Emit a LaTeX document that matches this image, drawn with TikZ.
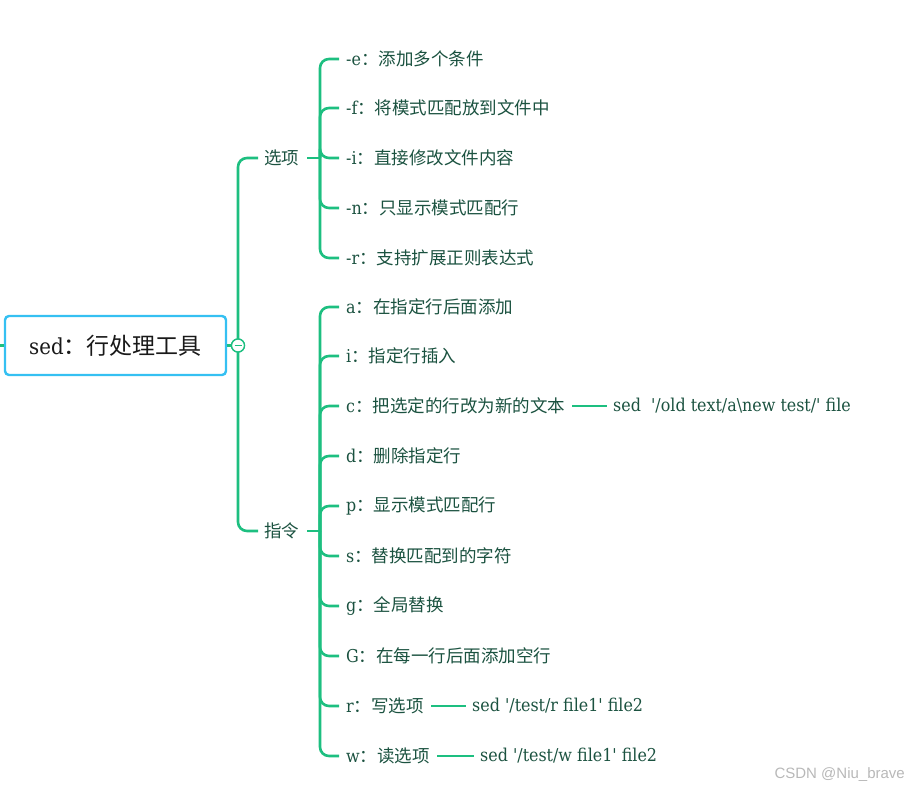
\documentclass[tikz,border=0pt]{standalone}
\usepackage{fontspec}
\setmainfont{DejaVu Serif Condensed}
\newfontfamily\cjkf{Noto Sans CJK SC}
\newcommand{\cjk}{\cjkf\fontsize{17.5}{20}\selectfont}
\newfontfamily\wmfont{Liberation Sans}
\definecolor{lg}{HTML}{1DBF80}
\definecolor{tg}{HTML}{1B5240}
\definecolor{rb}{HTML}{35C0F2}
\newcommand{\sq}{\textquotesingle}
\begin{document}
\begin{tikzpicture}[x=1pt,y=-1pt,
  kid/.style={anchor=west,inner sep=0pt,text=tg,font=\fontsize{17.7}{20}\selectfont},
  lnk/.style={draw=lg,line width=2.6pt,rounded corners=9pt},
  rootbox/.style={draw=rb,line width=2.4pt,rounded corners=4pt,minimum width=221pt,minimum height=59pt,inner sep=0pt,font=\fontsize{22}{26}\selectfont,text=black!90}]
\useasboundingbox (0,0) rectangle (909,791);
% root
\node[rootbox] (root) at (115.5,345.5) {sed{\cjkf\fontsize{23}{26}\selectfont：行处理工具}};
\coordinate (lstub) at (0,345.5);
\node[circle,draw=lg,fill=white,line width=1.3pt,minimum size=13pt,inner sep=0pt] (circ) at (238,345.5) {};
% level 1
\node[kid] (opt) at (264,158) {\cjk 选项};
\node[kid] (cmd) at (264,531) {\cjk 指令};
\coordinate (ob) at (320,158);
\coordinate (cb) at (320,531);
% options
\node[kid] (oe) at (346,59) {-e{\cjk：添加多个条件}};
\node[kid] (of) at (346,108) {-f{\cjk：将模式匹配放到文件中}};
\node[kid] (oi) at (346,158) {-i{\cjk：直接修改文件内容}};
\node[kid] (on) at (346,208) {-n{\cjk：只显示模式匹配行}};
\node[kid] (or) at (346,258) {-r{\cjk：支持扩展正则表达式}};
% commands
\node[kid] (ca) at (346,307) {a{\cjk：在指定行后面添加}};
\node[kid] (ci) at (346,356) {i{\cjk：指定行插入}};
\node[kid] (cc) at (346,406) {c{\cjk：把选定的行改为新的文本}};
\node[kid] (cd) at (346,456) {d{\cjk：删除指定行}};
\node[kid] (cp) at (346,506) {p{\cjk：显示模式匹配行}};
\node[kid] (cs) at (346,556) {s{\cjk：替换匹配到的字符}};
\node[kid] (cg) at (346,606) {g{\cjk：全局替换}};
\node[kid] (cG) at (346,656) {G{\cjk：在每一行后面添加空行}};
\node[kid] (cr) at (346,706) {r{\cjk：写选项}};
\node[kid] (cw) at (346,756) {w{\cjk：读选项}};
% leaves
\node[kid] (cct) at (613,406) {sed\ \ \sq/old text/a\textbackslash new test/\sq{} file};
\node[kid] (crt) at (472,706) {sed \sq/test/r file1\sq{} file2};
\node[kid] (cwt) at (480,756) {sed \sq/test/w file1\sq{} file2};
% connectors
\draw[lnk] (lstub) -- (root.west);
\draw[lnk] (root.east) -- (circ.west);
\draw[lnk] (circ.center) |- ([xshift=-6pt]opt.west);
\draw[lnk] (circ.center) |- ([xshift=-6pt]cmd.west);
\draw[lnk] ([xshift=8pt]opt.east) -- (ob);
\draw[lnk] ([xshift=8pt]cmd.east) -- (cb);
\foreach \n in {oe,of,oi,on,or}{\draw[lnk] (ob) |- ([xshift=-7pt]\n.west);}
\foreach \n in {ca,ci,cc,cd,cp,cs,cg,cG,cr,cw}{\draw[lnk] (cb) |- ([xshift=-7pt]\n.west);}
\draw[lnk] ([xshift=7pt]cc.east) -- ([xshift=-6pt]cct.west);
\draw[lnk] ([xshift=7pt]cr.east) -- ([xshift=-6pt]crt.west);
\draw[lnk] ([xshift=7pt]cw.east) -- ([xshift=-6pt]cwt.west);
% collapse marker
\node[circle,draw=lg,fill=white,line width=1.3pt,minimum size=13pt,inner sep=0pt] at (circ) {};
\draw[lg,line width=1.2pt] ([xshift=-3.5pt]circ.center) -- ([xshift=3.5pt]circ.center);
% watermark
\node[anchor=east,inner sep=0pt,text=black!28,font=\wmfont\fontsize{15}{17}\selectfont] (wm) at (905,775) {CSDN @Niu\_brave};
\end{tikzpicture}
\end{document}
